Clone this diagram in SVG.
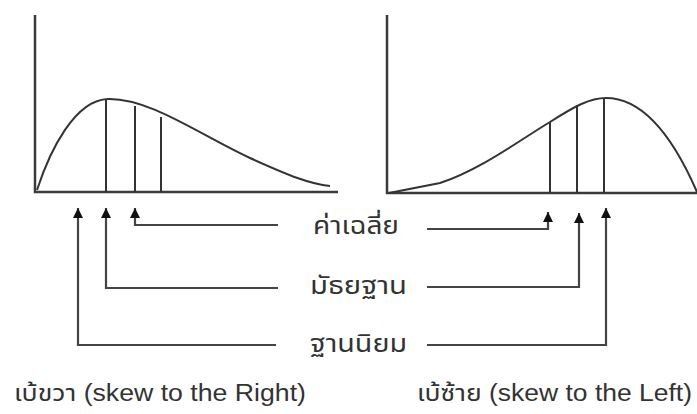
<svg xmlns="http://www.w3.org/2000/svg" width="697" height="414" viewBox="0 0 697 414">
<style>
.ax{stroke:#3a3a3a;stroke-width:2.5;fill:none}
.cv{stroke:#333;stroke-width:2;fill:none}
.vl{stroke:#333;stroke-width:2}
.cn{stroke:#444;stroke-width:2.2;fill:none}
.lb{font-family:"Liberation Sans","Noto Sans Thai","Noto Sans",sans-serif;font-size:24px;fill:#333}
.bt{font-family:"Liberation Sans","Noto Sans Thai","Noto Sans",sans-serif;font-size:23px;fill:#333}
</style>
<defs>
<marker id="ah" viewBox="0 0 10 10" refX="10" refY="5" markerWidth="10" markerHeight="10" markerUnits="userSpaceOnUse" orient="auto">
<path d="M0,0 L10,5 L0,10 Z" fill="#111"/>
</marker>
</defs>
<rect width="697" height="414" fill="#fff"/>
<g id="chart-left">
<path class="ax" d="M35,15 V192 H338"/>
<path class="cv" d="M37,190 C50,150 75,100 108,99 C150,98 200,135 250,158 C290,176 310,184 330,186"/>
<line class="vl" x1="106" y1="100" x2="106" y2="192"/>
<line class="vl" x1="135" y1="106" x2="135" y2="192"/>
<line class="vl" x1="161" y1="117" x2="161" y2="192"/>
</g>
<g id="chart-right">
<path class="ax" d="M387,15 V193 H697"/>
<path class="cv" d="M389,193 L440,183 C480,170 520,140 550,122 C575,106 590,98 606,98 C640,98 670,130 697,192"/>
<line class="vl" x1="550" y1="122" x2="550" y2="193"/>
<line class="vl" x1="577" y1="105" x2="577" y2="193"/>
<line class="vl" x1="604" y1="98" x2="604" y2="193"/>
</g>
<g id="connectors">
<path class="cn" d="M278,225 H135 V208" marker-end="url(#ah)"/>
<path class="cn" d="M278,288 H106 V208" marker-end="url(#ah)"/>
<path class="cn" d="M276,345 H78 V208" marker-end="url(#ah)"/>
<path class="cn" d="M427,229 H548 V212" marker-end="url(#ah)"/>
<path class="cn" d="M427,287 H579 V213" marker-end="url(#ah)"/>
<path class="cn" d="M427,345 H606 V208" marker-end="url(#ah)"/>
</g>
<g id="label-mean"><text class="lb" x="313" y="234" textLength="86" lengthAdjust="spacingAndGlyphs">ค่าเฉลี่ย</text></g>
<g id="label-median"><text class="lb" x="310" y="294" textLength="97" lengthAdjust="spacingAndGlyphs">มัธยฐาน</text></g>
<g id="label-mode"><text class="lb" x="310" y="352" textLength="97" lengthAdjust="spacingAndGlyphs">ฐานนิยม</text></g>
<g id="caption-right"><text class="bt" x="14" y="401" textLength="292" lengthAdjust="spacingAndGlyphs">เบ้ขวา (skew to the Right)</text></g>
<g id="caption-left"><text class="bt" x="417" y="401" textLength="275" lengthAdjust="spacingAndGlyphs">เบ้ซ้าย (skew to the Left)</text></g>
</svg>
